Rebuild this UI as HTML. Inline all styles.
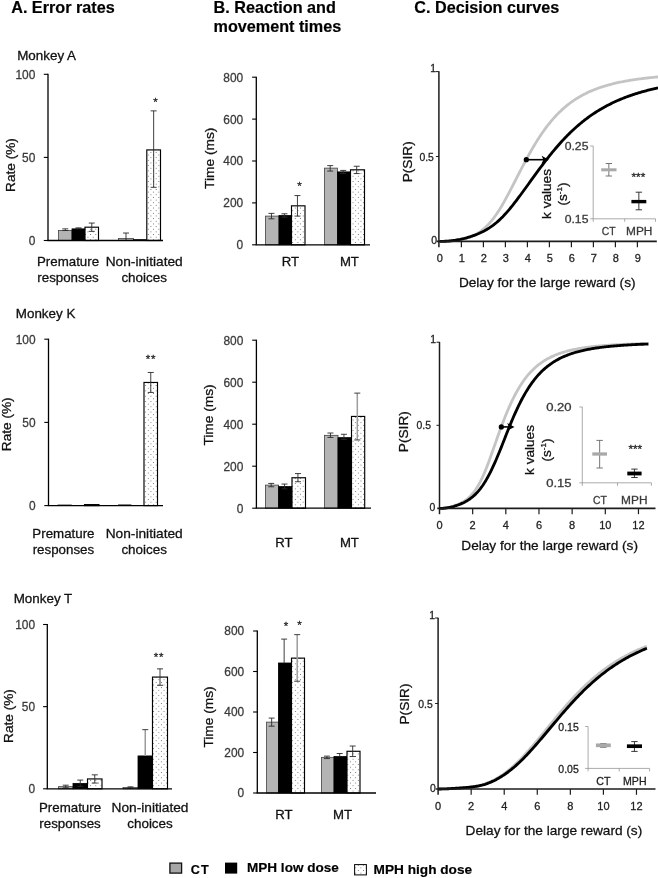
<!DOCTYPE html>
<html><head><meta charset="utf-8"><title>Figure</title>
<style>
html,body{margin:0;padding:0;background:#fff;}
body{width:658px;height:878px;overflow:hidden;font-family:"Liberation Sans",sans-serif;}
svg{display:block;font-family:"Liberation Sans",sans-serif;will-change:transform;transform:translateZ(0);}
</style></head><body>
<svg width="658" height="878" viewBox="0 0 658 878">
<defs>
<pattern id="dots" width="5.25" height="5.3" patternUnits="userSpaceOnUse">
<rect width="5.25" height="5.3" fill="#fff"/>
<circle cx="1.3" cy="1.3" r="0.52" fill="#555"/>
<circle cx="3.92" cy="3.95" r="0.52" fill="#555"/>
</pattern>
</defs>

<text x="11.2" y="13.3" font-size="16.2" text-anchor="start" font-weight="bold" fill="#000" stroke="#000" stroke-width="0.18">A. Error rates</text>
<text x="213.5" y="13.0" font-size="16.2" text-anchor="start" font-weight="bold" fill="#000" stroke="#000" stroke-width="0.18">B. Reaction and</text>
<text x="213.5" y="32.0" font-size="16.2" text-anchor="start" font-weight="bold" fill="#000" stroke="#000" stroke-width="0.18">movement times</text>
<text x="414.3" y="12.7" font-size="16.2" text-anchor="start" font-weight="bold" fill="#000" stroke="#000" stroke-width="0.18">C. Decision curves</text>
<text x="0" y="0" font-size="12.6" text-anchor="start" font-weight="normal" fill="#111" transform="translate(17.2 59.5) scale(1.065 1)" stroke="#111" stroke-width="0.28">Monkey A</text>
<rect x="58.5" y="230.53" width="13.5" height="9.969999999999999" fill="#b4b4b4" stroke="#444" stroke-width="0.8"/>
<rect x="72" y="228.87" width="13" height="11.629999999999995" fill="#000" stroke="#000" stroke-width="0.8"/>
<rect x="85" y="227.2" width="13.5" height="13.300000000000011" fill="url(#dots)" stroke="#000" stroke-width="1.15"/>
<line x1="65.25" y1="228.87" x2="65.25" y2="230.53" stroke="#2a2a2a" stroke-width="0.9" stroke-linecap="butt"/>
<line x1="62.25" y1="228.87" x2="68.25" y2="228.87" stroke="#2a2a2a" stroke-width="0.9" stroke-linecap="butt"/>
<line x1="62.25" y1="230.53" x2="68.25" y2="230.53" stroke="#2a2a2a" stroke-width="0.9" stroke-linecap="butt"/>
<line x1="78.5" y1="227.87" x2="78.5" y2="228.87" stroke="#2a2a2a" stroke-width="0.9" stroke-linecap="butt"/>
<line x1="75.5" y1="227.87" x2="81.5" y2="227.87" stroke="#2a2a2a" stroke-width="0.9" stroke-linecap="butt"/>
<line x1="75.5" y1="228.87" x2="81.5" y2="228.87" stroke="#2a2a2a" stroke-width="0.9" stroke-linecap="butt"/>
<line x1="91.75" y1="223.05" x2="91.75" y2="231.36" stroke="#2a2a2a" stroke-width="0.9" stroke-linecap="butt"/>
<line x1="88.75" y1="223.05" x2="94.75" y2="223.05" stroke="#2a2a2a" stroke-width="0.9" stroke-linecap="butt"/>
<line x1="88.75" y1="231.36" x2="94.75" y2="231.36" stroke="#2a2a2a" stroke-width="0.9" stroke-linecap="butt"/>
<rect x="118.5" y="238.51" width="15" height="1.990000000000009" fill="#b4b4b4" stroke="#444" stroke-width="0.8"/>
<rect x="133.5" y="239.67" width="13" height="0.8300000000000125" fill="#000" stroke="#000" stroke-width="0.8"/>
<rect x="146.8" y="149.92" width="13.7" height="90.58000000000001" fill="url(#dots)" stroke="#000" stroke-width="1.15"/>
<line x1="126.0" y1="233.02" x2="126.0" y2="240.5" stroke="#2a2a2a" stroke-width="0.9" stroke-linecap="butt"/>
<line x1="123.0" y1="233.02" x2="129.0" y2="233.02" stroke="#2a2a2a" stroke-width="0.9" stroke-linecap="butt"/>
<line x1="153.65" y1="110.86" x2="153.65" y2="187.32" stroke="#2a2a2a" stroke-width="0.9" stroke-linecap="butt"/>
<line x1="150.65" y1="110.86" x2="156.65" y2="110.86" stroke="#2a2a2a" stroke-width="0.9" stroke-linecap="butt"/>
<line x1="150.65" y1="187.32" x2="156.65" y2="187.32" stroke="#2a2a2a" stroke-width="0.9" stroke-linecap="butt"/>
<line x1="48" y1="73.8" x2="48" y2="240.5" stroke="#000" stroke-width="1.3" stroke-linecap="butt"/>
<line x1="47.35" y1="240.5" x2="163" y2="240.5" stroke="#000" stroke-width="1.3" stroke-linecap="butt"/>
<line x1="43.8" y1="240.5" x2="48" y2="240.5" stroke="#000" stroke-width="1.1" stroke-linecap="butt"/>
<text x="35.3" y="245.1" font-size="11.9" text-anchor="end" font-weight="normal" fill="#3a3a3a" stroke="#3a3a3a" stroke-width="0.28">0</text>
<line x1="43.8" y1="157.4" x2="48" y2="157.4" stroke="#000" stroke-width="1.1" stroke-linecap="butt"/>
<text x="35.3" y="162.0" font-size="11.9" text-anchor="end" font-weight="normal" fill="#3a3a3a" stroke="#3a3a3a" stroke-width="0.28">50</text>
<line x1="43.8" y1="74.3" x2="48" y2="74.3" stroke="#000" stroke-width="1.1" stroke-linecap="butt"/>
<text x="35.3" y="78.89999999999999" font-size="11.9" text-anchor="end" font-weight="normal" fill="#3a3a3a" stroke="#3a3a3a" stroke-width="0.28">100</text>
<text x="0" y="0" font-size="12.6" text-anchor="middle" font-weight="normal" fill="#111" transform="translate(15.0 165) rotate(-90) scale(1.083 1)" stroke="#111" stroke-width="0.28">Rate (%)</text>
<text x="155.5" y="105.5" font-size="11.5" text-anchor="middle" font-weight="normal" fill="#222" stroke="#222" stroke-width="0.28">*</text>
<text x="0" y="0" font-size="13.2" text-anchor="middle" font-weight="normal" fill="#111" transform="translate(68 266.2) scale(1.01 1)" stroke="#111" stroke-width="0.28">Premature</text>
<text x="0" y="0" font-size="13.2" text-anchor="middle" font-weight="normal" fill="#111" transform="translate(68 282.2) scale(1.01 1)" stroke="#111" stroke-width="0.28">responses</text>
<text x="0" y="0" font-size="13.2" text-anchor="middle" font-weight="normal" fill="#111" transform="translate(144.2 266.2) scale(1.04 1)" stroke="#111" stroke-width="0.28">Non-initiated</text>
<text x="0" y="0" font-size="13.2" text-anchor="middle" font-weight="normal" fill="#111" transform="translate(144.2 282.2) scale(1.02 1)" stroke="#111" stroke-width="0.28">choices</text>
<text x="0" y="0" font-size="12.6" text-anchor="start" font-weight="normal" fill="#111" transform="translate(15.8 318.2) scale(1.065 1)" stroke="#111" stroke-width="0.28">Monkey K</text>
<rect x="58" y="504.93" width="13.5" height="0.6700000000000159" fill="#b4b4b4" stroke="#444" stroke-width="0.8"/>
<rect x="84.5" y="504.6" width="14.5" height="1.0" fill="url(#dots)" stroke="#000" stroke-width="1.15"/>
<rect x="118.5" y="504.77" width="12.5" height="0.8300000000000409" fill="#b4b4b4" stroke="#444" stroke-width="0.8"/>
<rect x="144" y="382.46" width="13.5" height="123.14000000000004" fill="url(#dots)" stroke="#000" stroke-width="1.15"/>
<line x1="150.75" y1="372.48" x2="150.75" y2="392.45" stroke="#2a2a2a" stroke-width="0.9" stroke-linecap="butt"/>
<line x1="147.75" y1="372.48" x2="153.75" y2="372.48" stroke="#2a2a2a" stroke-width="0.9" stroke-linecap="butt"/>
<line x1="147.75" y1="392.45" x2="153.75" y2="392.45" stroke="#2a2a2a" stroke-width="0.9" stroke-linecap="butt"/>
<line x1="48.5" y1="338.7" x2="48.5" y2="505.6" stroke="#000" stroke-width="1.3" stroke-linecap="butt"/>
<line x1="47.85" y1="505.6" x2="163" y2="505.6" stroke="#000" stroke-width="1.3" stroke-linecap="butt"/>
<line x1="44.3" y1="505.6" x2="48.5" y2="505.6" stroke="#000" stroke-width="1.1" stroke-linecap="butt"/>
<text x="35.5" y="510.20000000000005" font-size="11.9" text-anchor="end" font-weight="normal" fill="#3a3a3a" stroke="#3a3a3a" stroke-width="0.28">0</text>
<line x1="44.3" y1="422.4" x2="48.5" y2="422.4" stroke="#000" stroke-width="1.1" stroke-linecap="butt"/>
<text x="35.5" y="427.0" font-size="11.9" text-anchor="end" font-weight="normal" fill="#3a3a3a" stroke="#3a3a3a" stroke-width="0.28">50</text>
<line x1="44.3" y1="339.2" x2="48.5" y2="339.2" stroke="#000" stroke-width="1.1" stroke-linecap="butt"/>
<text x="35.5" y="343.8" font-size="11.9" text-anchor="end" font-weight="normal" fill="#3a3a3a" stroke="#3a3a3a" stroke-width="0.28">100</text>
<text x="0" y="0" font-size="12.6" text-anchor="middle" font-weight="normal" fill="#111" transform="translate(10.7 424.3) rotate(-90) scale(1.083 1)" stroke="#111" stroke-width="0.28">Rate (%)</text>
<text x="151" y="363" font-size="11.5" text-anchor="middle" font-weight="normal" fill="#222" letter-spacing="0.7" stroke="#222" stroke-width="0.28">**</text>
<text x="0" y="0" font-size="13.2" text-anchor="middle" font-weight="normal" fill="#111" transform="translate(63.4 537.8) scale(1.01 1)" stroke="#111" stroke-width="0.28">Premature</text>
<text x="0" y="0" font-size="13.2" text-anchor="middle" font-weight="normal" fill="#111" transform="translate(63.4 553.8) scale(1.01 1)" stroke="#111" stroke-width="0.28">responses</text>
<text x="0" y="0" font-size="13.2" text-anchor="middle" font-weight="normal" fill="#111" transform="translate(144.2 537.8) scale(1.04 1)" stroke="#111" stroke-width="0.28">Non-initiated</text>
<text x="0" y="0" font-size="13.2" text-anchor="middle" font-weight="normal" fill="#111" transform="translate(144.2 553.8) scale(1.02 1)" stroke="#111" stroke-width="0.28">choices</text>
<text x="0" y="0" font-size="12.6" text-anchor="start" font-weight="normal" fill="#111" transform="translate(13.7 603.3) scale(1.065 1)" stroke="#111" stroke-width="0.28">Monkey T</text>
<rect x="58.5" y="786.66" width="14.5" height="2.1399999999999864" fill="#b4b4b4" stroke="#444" stroke-width="0.8"/>
<rect x="73" y="783.38" width="14.5" height="5.419999999999959" fill="#000" stroke="#000" stroke-width="0.8"/>
<rect x="87.5" y="778.94" width="14.5" height="9.8599999999999" fill="url(#dots)" stroke="#000" stroke-width="1.15"/>
<line x1="65.75" y1="785.19" x2="65.75" y2="787.81" stroke="#2a2a2a" stroke-width="0.9" stroke-linecap="butt"/>
<line x1="62.75" y1="785.19" x2="68.75" y2="785.19" stroke="#2a2a2a" stroke-width="0.9" stroke-linecap="butt"/>
<line x1="62.75" y1="787.81" x2="68.75" y2="787.81" stroke="#2a2a2a" stroke-width="0.9" stroke-linecap="butt"/>
<line x1="80.25" y1="780.09" x2="80.25" y2="786.34" stroke="#2a2a2a" stroke-width="0.9" stroke-linecap="butt"/>
<line x1="77.25" y1="780.09" x2="83.25" y2="780.09" stroke="#2a2a2a" stroke-width="0.9" stroke-linecap="butt"/>
<line x1="77.25" y1="786.34" x2="83.25" y2="786.34" stroke="#2a2a2a" stroke-width="0.9" stroke-linecap="butt"/>
<line x1="94.75" y1="774.83" x2="94.75" y2="783.05" stroke="#2a2a2a" stroke-width="0.9" stroke-linecap="butt"/>
<line x1="91.75" y1="774.83" x2="97.75" y2="774.83" stroke="#2a2a2a" stroke-width="0.9" stroke-linecap="butt"/>
<line x1="91.75" y1="783.05" x2="97.75" y2="783.05" stroke="#2a2a2a" stroke-width="0.9" stroke-linecap="butt"/>
<rect x="123" y="787.49" width="15" height="1.3099999999999454" fill="#b4b4b4" stroke="#444" stroke-width="0.8"/>
<rect x="138" y="755.94" width="14.5" height="32.8599999999999" fill="#000" stroke="#000" stroke-width="0.8"/>
<rect x="152.5" y="677.08" width="15" height="111.71999999999991" fill="url(#dots)" stroke="#000" stroke-width="1.15"/>
<line x1="130.5" y1="786.83" x2="130.5" y2="788.14" stroke="#2a2a2a" stroke-width="0.9" stroke-linecap="butt"/>
<line x1="127.5" y1="786.83" x2="133.5" y2="786.83" stroke="#2a2a2a" stroke-width="0.9" stroke-linecap="butt"/>
<line x1="127.5" y1="788.14" x2="133.5" y2="788.14" stroke="#2a2a2a" stroke-width="0.9" stroke-linecap="butt"/>
<line x1="145.25" y1="729.65" x2="145.25" y2="755.94" stroke="#9c9c9c" stroke-width="1.5" stroke-linecap="butt"/>
<line x1="142.25" y1="729.65" x2="148.25" y2="729.65" stroke="#2a2a2a" stroke-width="0.9" stroke-linecap="butt"/>
<line x1="160.0" y1="668.86" x2="160.0" y2="685.29" stroke="#2a2a2a" stroke-width="0.9" stroke-linecap="butt"/>
<line x1="157.0" y1="668.86" x2="163.0" y2="668.86" stroke="#2a2a2a" stroke-width="0.9" stroke-linecap="butt"/>
<line x1="157.0" y1="685.29" x2="163.0" y2="685.29" stroke="#2a2a2a" stroke-width="0.9" stroke-linecap="butt"/>
<line x1="47.3" y1="624.0" x2="47.3" y2="788.8" stroke="#000" stroke-width="1.3" stroke-linecap="butt"/>
<line x1="46.65" y1="788.8" x2="172" y2="788.8" stroke="#000" stroke-width="1.3" stroke-linecap="butt"/>
<line x1="43.099999999999994" y1="788.8" x2="47.3" y2="788.8" stroke="#000" stroke-width="1.1" stroke-linecap="butt"/>
<text x="35.0" y="793.4" font-size="11.9" text-anchor="end" font-weight="normal" fill="#3a3a3a" stroke="#3a3a3a" stroke-width="0.28">0</text>
<line x1="43.099999999999994" y1="706.65" x2="47.3" y2="706.65" stroke="#000" stroke-width="1.1" stroke-linecap="butt"/>
<text x="35.0" y="711.25" font-size="11.9" text-anchor="end" font-weight="normal" fill="#3a3a3a" stroke="#3a3a3a" stroke-width="0.28">50</text>
<line x1="43.099999999999994" y1="624.5" x2="47.3" y2="624.5" stroke="#000" stroke-width="1.1" stroke-linecap="butt"/>
<text x="35.0" y="629.1" font-size="11.9" text-anchor="end" font-weight="normal" fill="#3a3a3a" stroke="#3a3a3a" stroke-width="0.28">100</text>
<text x="0" y="0" font-size="12.6" text-anchor="middle" font-weight="normal" fill="#111" transform="translate(13.2 716) rotate(-90) scale(1.083 1)" stroke="#111" stroke-width="0.28">Rate (%)</text>
<text x="159" y="661" font-size="11.5" text-anchor="middle" font-weight="normal" fill="#222" letter-spacing="0.7" stroke="#222" stroke-width="0.28">**</text>
<text x="0" y="0" font-size="13.2" text-anchor="middle" font-weight="normal" fill="#111" transform="translate(70 812.0) scale(1.01 1)" stroke="#111" stroke-width="0.28">Premature</text>
<text x="0" y="0" font-size="13.2" text-anchor="middle" font-weight="normal" fill="#111" transform="translate(70 828.0) scale(1.01 1)" stroke="#111" stroke-width="0.28">responses</text>
<text x="0" y="0" font-size="13.2" text-anchor="middle" font-weight="normal" fill="#111" transform="translate(150 812.0) scale(1.04 1)" stroke="#111" stroke-width="0.28">Non-initiated</text>
<text x="0" y="0" font-size="13.2" text-anchor="middle" font-weight="normal" fill="#111" transform="translate(150 828.0) scale(1.02 1)" stroke="#111" stroke-width="0.28">choices</text>
<rect x="265.5" y="216.1" width="13.5" height="28.700000000000017" fill="#b4b4b4" stroke="#444" stroke-width="0.8"/>
<rect x="279" y="215.47" width="12.5" height="29.330000000000013" fill="#000" stroke="#000" stroke-width="0.8"/>
<rect x="291.5" y="205.83" width="13.5" height="38.97" fill="url(#dots)" stroke="#000" stroke-width="1.15"/>
<line x1="271.45" y1="213.38" x2="271.45" y2="218.82" stroke="#2a2a2a" stroke-width="0.9" stroke-linecap="butt"/>
<line x1="268.45" y1="213.38" x2="274.45" y2="213.38" stroke="#2a2a2a" stroke-width="0.9" stroke-linecap="butt"/>
<line x1="268.45" y1="218.82" x2="274.45" y2="218.82" stroke="#2a2a2a" stroke-width="0.9" stroke-linecap="butt"/>
<line x1="284.45" y1="213.79" x2="284.45" y2="217.15" stroke="#2a2a2a" stroke-width="0.9" stroke-linecap="butt"/>
<line x1="281.45" y1="213.79" x2="287.45" y2="213.79" stroke="#2a2a2a" stroke-width="0.9" stroke-linecap="butt"/>
<line x1="281.45" y1="217.15" x2="287.45" y2="217.15" stroke="#2a2a2a" stroke-width="0.9" stroke-linecap="butt"/>
<line x1="297.45" y1="195.57" x2="297.45" y2="216.1" stroke="#2a2a2a" stroke-width="0.9" stroke-linecap="butt"/>
<line x1="294.45" y1="195.57" x2="300.45" y2="195.57" stroke="#2a2a2a" stroke-width="0.9" stroke-linecap="butt"/>
<line x1="294.45" y1="216.1" x2="300.45" y2="216.1" stroke="#2a2a2a" stroke-width="0.9" stroke-linecap="butt"/>
<rect x="324.5" y="168.12" width="13" height="76.68" fill="#b4b4b4" stroke="#444" stroke-width="0.8"/>
<rect x="337.5" y="171.89" width="13" height="72.91000000000003" fill="#000" stroke="#000" stroke-width="0.8"/>
<rect x="350.5" y="169.8" width="14" height="75.0" fill="url(#dots)" stroke="#000" stroke-width="1.15"/>
<line x1="330.2" y1="165.61" x2="330.2" y2="171.06" stroke="#2a2a2a" stroke-width="0.9" stroke-linecap="butt"/>
<line x1="327.2" y1="165.61" x2="333.2" y2="165.61" stroke="#2a2a2a" stroke-width="0.9" stroke-linecap="butt"/>
<line x1="327.2" y1="171.06" x2="333.2" y2="171.06" stroke="#2a2a2a" stroke-width="0.9" stroke-linecap="butt"/>
<line x1="343.2" y1="170.43" x2="343.2" y2="173.36" stroke="#2a2a2a" stroke-width="0.9" stroke-linecap="butt"/>
<line x1="340.2" y1="170.43" x2="346.2" y2="170.43" stroke="#2a2a2a" stroke-width="0.9" stroke-linecap="butt"/>
<line x1="340.2" y1="173.36" x2="346.2" y2="173.36" stroke="#2a2a2a" stroke-width="0.9" stroke-linecap="butt"/>
<line x1="356.7" y1="166.24" x2="356.7" y2="173.57" stroke="#2a2a2a" stroke-width="0.9" stroke-linecap="butt"/>
<line x1="353.7" y1="166.24" x2="359.7" y2="166.24" stroke="#2a2a2a" stroke-width="0.9" stroke-linecap="butt"/>
<line x1="353.7" y1="173.57" x2="359.7" y2="173.57" stroke="#2a2a2a" stroke-width="0.9" stroke-linecap="butt"/>
<line x1="256.3" y1="76.7" x2="256.3" y2="244.8" stroke="#000" stroke-width="1.3" stroke-linecap="butt"/>
<line x1="255.65" y1="244.8" x2="370" y2="244.8" stroke="#000" stroke-width="1.3" stroke-linecap="butt"/>
<line x1="252.10000000000002" y1="244.8" x2="256.3" y2="244.8" stroke="#000" stroke-width="1.1" stroke-linecap="butt"/>
<text x="243.20000000000002" y="249.20000000000002" font-size="11.9" text-anchor="end" font-weight="normal" fill="#3a3a3a" stroke="#3a3a3a" stroke-width="0.28">0</text>
<line x1="252.10000000000002" y1="202.9" x2="256.3" y2="202.9" stroke="#000" stroke-width="1.1" stroke-linecap="butt"/>
<text x="243.20000000000002" y="207.3" font-size="11.9" text-anchor="end" font-weight="normal" fill="#3a3a3a" stroke="#3a3a3a" stroke-width="0.28">200</text>
<line x1="252.10000000000002" y1="161.0" x2="256.3" y2="161.0" stroke="#000" stroke-width="1.1" stroke-linecap="butt"/>
<text x="243.20000000000002" y="165.4" font-size="11.9" text-anchor="end" font-weight="normal" fill="#3a3a3a" stroke="#3a3a3a" stroke-width="0.28">400</text>
<line x1="252.10000000000002" y1="119.1" x2="256.3" y2="119.1" stroke="#000" stroke-width="1.1" stroke-linecap="butt"/>
<text x="243.20000000000002" y="123.5" font-size="11.9" text-anchor="end" font-weight="normal" fill="#3a3a3a" stroke="#3a3a3a" stroke-width="0.28">600</text>
<line x1="252.10000000000002" y1="77.2" x2="256.3" y2="77.2" stroke="#000" stroke-width="1.1" stroke-linecap="butt"/>
<text x="243.20000000000002" y="81.60000000000001" font-size="11.9" text-anchor="end" font-weight="normal" fill="#3a3a3a" stroke="#3a3a3a" stroke-width="0.28">800</text>
<text x="0" y="0" font-size="12.9" text-anchor="middle" font-weight="normal" fill="#111" transform="translate(214.4 158.3) rotate(-90) scale(1.065 1)" stroke="#111" stroke-width="0.28">Time (ms)</text>
<text x="299.4" y="189.5" font-size="11.5" text-anchor="middle" font-weight="normal" fill="#222" stroke="#222" stroke-width="0.28">*</text>
<text x="290.4" y="266.3" font-size="13.2" text-anchor="middle" font-weight="normal" fill="#111" stroke="#111" stroke-width="0.28">RT</text>
<text x="349.4" y="266.3" font-size="13.2" text-anchor="middle" font-weight="normal" fill="#111" stroke="#111" stroke-width="0.28">MT</text>
<rect x="265.4" y="485.1" width="13.2" height="23.099999999999966" fill="#b4b4b4" stroke="#444" stroke-width="0.8"/>
<rect x="278.6" y="486.57" width="13.4" height="21.629999999999995" fill="#000" stroke="#000" stroke-width="0.8"/>
<rect x="292.0" y="477.75" width="13.5" height="30.44999999999999" fill="url(#dots)" stroke="#000" stroke-width="1.15"/>
<line x1="271.2" y1="483.42" x2="271.2" y2="486.78" stroke="#2a2a2a" stroke-width="0.9" stroke-linecap="butt"/>
<line x1="268.2" y1="483.42" x2="274.2" y2="483.42" stroke="#2a2a2a" stroke-width="0.9" stroke-linecap="butt"/>
<line x1="268.2" y1="486.78" x2="274.2" y2="486.78" stroke="#2a2a2a" stroke-width="0.9" stroke-linecap="butt"/>
<line x1="284.5" y1="484.05" x2="284.5" y2="488.88" stroke="#2a2a2a" stroke-width="0.9" stroke-linecap="butt"/>
<line x1="281.5" y1="484.05" x2="287.5" y2="484.05" stroke="#2a2a2a" stroke-width="0.9" stroke-linecap="butt"/>
<line x1="281.5" y1="488.88" x2="287.5" y2="488.88" stroke="#2a2a2a" stroke-width="0.9" stroke-linecap="butt"/>
<line x1="297.95" y1="473.55" x2="297.95" y2="481.74" stroke="#2a2a2a" stroke-width="0.9" stroke-linecap="butt"/>
<line x1="294.95" y1="473.55" x2="300.95" y2="473.55" stroke="#2a2a2a" stroke-width="0.9" stroke-linecap="butt"/>
<line x1="294.95" y1="481.74" x2="300.95" y2="481.74" stroke="#2a2a2a" stroke-width="0.9" stroke-linecap="butt"/>
<rect x="324.5" y="435.33" width="13.5" height="72.87" fill="#b4b4b4" stroke="#444" stroke-width="0.8"/>
<rect x="338" y="437.64" width="13.5" height="70.56" fill="#000" stroke="#000" stroke-width="0.8"/>
<rect x="351.5" y="416.43" width="13.2" height="91.76999999999998" fill="url(#dots)" stroke="#000" stroke-width="1.15"/>
<line x1="330.45" y1="433.02" x2="330.45" y2="437.43" stroke="#2a2a2a" stroke-width="0.9" stroke-linecap="butt"/>
<line x1="327.45" y1="433.02" x2="333.45" y2="433.02" stroke="#2a2a2a" stroke-width="0.9" stroke-linecap="butt"/>
<line x1="327.45" y1="437.43" x2="333.45" y2="437.43" stroke="#2a2a2a" stroke-width="0.9" stroke-linecap="butt"/>
<line x1="343.95" y1="434.28" x2="343.95" y2="439.32" stroke="#2a2a2a" stroke-width="0.9" stroke-linecap="butt"/>
<line x1="340.95" y1="434.28" x2="346.95" y2="434.28" stroke="#2a2a2a" stroke-width="0.9" stroke-linecap="butt"/>
<line x1="340.95" y1="439.32" x2="346.95" y2="439.32" stroke="#2a2a2a" stroke-width="0.9" stroke-linecap="butt"/>
<line x1="357.3" y1="393.12" x2="357.3" y2="439.95" stroke="#9c9c9c" stroke-width="1.5" stroke-linecap="butt"/>
<line x1="354.3" y1="393.12" x2="360.3" y2="393.12" stroke="#2a2a2a" stroke-width="0.9" stroke-linecap="butt"/>
<line x1="354.3" y1="439.95" x2="360.3" y2="439.95" stroke="#2a2a2a" stroke-width="0.9" stroke-linecap="butt"/>
<line x1="256.4" y1="339.7" x2="256.4" y2="508.2" stroke="#000" stroke-width="1.3" stroke-linecap="butt"/>
<line x1="255.74999999999997" y1="508.2" x2="371" y2="508.2" stroke="#000" stroke-width="1.3" stroke-linecap="butt"/>
<line x1="252.2" y1="508.2" x2="256.4" y2="508.2" stroke="#000" stroke-width="1.1" stroke-linecap="butt"/>
<text x="243.29999999999998" y="512.6" font-size="11.9" text-anchor="end" font-weight="normal" fill="#3a3a3a" stroke="#3a3a3a" stroke-width="0.28">0</text>
<line x1="252.2" y1="466.2" x2="256.4" y2="466.2" stroke="#000" stroke-width="1.1" stroke-linecap="butt"/>
<text x="243.29999999999998" y="470.59999999999997" font-size="11.9" text-anchor="end" font-weight="normal" fill="#3a3a3a" stroke="#3a3a3a" stroke-width="0.28">200</text>
<line x1="252.2" y1="424.2" x2="256.4" y2="424.2" stroke="#000" stroke-width="1.1" stroke-linecap="butt"/>
<text x="243.29999999999998" y="428.59999999999997" font-size="11.9" text-anchor="end" font-weight="normal" fill="#3a3a3a" stroke="#3a3a3a" stroke-width="0.28">400</text>
<line x1="252.2" y1="382.2" x2="256.4" y2="382.2" stroke="#000" stroke-width="1.1" stroke-linecap="butt"/>
<text x="243.29999999999998" y="386.59999999999997" font-size="11.9" text-anchor="end" font-weight="normal" fill="#3a3a3a" stroke="#3a3a3a" stroke-width="0.28">600</text>
<line x1="252.2" y1="340.2" x2="256.4" y2="340.2" stroke="#000" stroke-width="1.1" stroke-linecap="butt"/>
<text x="243.29999999999998" y="344.59999999999997" font-size="11.9" text-anchor="end" font-weight="normal" fill="#3a3a3a" stroke="#3a3a3a" stroke-width="0.28">800</text>
<text x="0" y="0" font-size="12.9" text-anchor="middle" font-weight="normal" fill="#111" transform="translate(212.8 415) rotate(-90) scale(1.065 1)" stroke="#111" stroke-width="0.28">Time (ms)</text>
<text x="284" y="546.7" font-size="13.2" text-anchor="middle" font-weight="normal" fill="#111" stroke="#111" stroke-width="0.28">RT</text>
<text x="349.4" y="546.7" font-size="13.2" text-anchor="middle" font-weight="normal" fill="#111" stroke="#111" stroke-width="0.28">MT</text>
<rect x="266.5" y="722.12" width="11.9" height="70.88" fill="#b4b4b4" stroke="#444" stroke-width="0.8"/>
<rect x="278.4" y="663.0" width="13.1" height="130.0" fill="#000" stroke="#000" stroke-width="0.8"/>
<rect x="291.5" y="658.13" width="13" height="134.87" fill="url(#dots)" stroke="#000" stroke-width="1.15"/>
<line x1="271.65" y1="718.08" x2="271.65" y2="726.17" stroke="#2a2a2a" stroke-width="0.9" stroke-linecap="butt"/>
<line x1="268.65" y1="718.08" x2="274.65" y2="718.08" stroke="#2a2a2a" stroke-width="0.9" stroke-linecap="butt"/>
<line x1="268.65" y1="726.17" x2="274.65" y2="726.17" stroke="#2a2a2a" stroke-width="0.9" stroke-linecap="butt"/>
<line x1="284.15" y1="639.1" x2="284.15" y2="663.4" stroke="#2a2a2a" stroke-width="0.9" stroke-linecap="butt"/>
<line x1="281.15" y1="639.1" x2="287.15" y2="639.1" stroke="#2a2a2a" stroke-width="0.9" stroke-linecap="butt"/>
<line x1="297.2" y1="634.64" x2="297.2" y2="681.22" stroke="#9c9c9c" stroke-width="1.5" stroke-linecap="butt"/>
<line x1="294.2" y1="634.64" x2="300.2" y2="634.64" stroke="#2a2a2a" stroke-width="0.9" stroke-linecap="butt"/>
<line x1="294.2" y1="681.22" x2="300.2" y2="681.22" stroke="#2a2a2a" stroke-width="0.9" stroke-linecap="butt"/>
<rect x="321.5" y="757.36" width="12.5" height="35.639999999999986" fill="#b4b4b4" stroke="#444" stroke-width="0.8"/>
<rect x="334" y="756.55" width="13" height="36.450000000000045" fill="#000" stroke="#000" stroke-width="0.8"/>
<rect x="347" y="751.28" width="13" height="41.72000000000003" fill="url(#dots)" stroke="#000" stroke-width="1.15"/>
<line x1="326.95" y1="756.14" x2="326.95" y2="758.58" stroke="#2a2a2a" stroke-width="0.9" stroke-linecap="butt"/>
<line x1="323.95" y1="756.14" x2="329.95" y2="756.14" stroke="#2a2a2a" stroke-width="0.9" stroke-linecap="butt"/>
<line x1="323.95" y1="758.58" x2="329.95" y2="758.58" stroke="#2a2a2a" stroke-width="0.9" stroke-linecap="butt"/>
<line x1="339.7" y1="753.51" x2="339.7" y2="756.55" stroke="#2a2a2a" stroke-width="0.9" stroke-linecap="butt"/>
<line x1="336.7" y1="753.51" x2="342.7" y2="753.51" stroke="#2a2a2a" stroke-width="0.9" stroke-linecap="butt"/>
<line x1="352.7" y1="746.02" x2="352.7" y2="756.55" stroke="#2a2a2a" stroke-width="0.9" stroke-linecap="butt"/>
<line x1="349.7" y1="746.02" x2="355.7" y2="746.02" stroke="#2a2a2a" stroke-width="0.9" stroke-linecap="butt"/>
<line x1="349.7" y1="756.55" x2="355.7" y2="756.55" stroke="#2a2a2a" stroke-width="0.9" stroke-linecap="butt"/>
<line x1="257.3" y1="630.5" x2="257.3" y2="793" stroke="#000" stroke-width="1.3" stroke-linecap="butt"/>
<line x1="256.65000000000003" y1="793" x2="376" y2="793" stroke="#000" stroke-width="1.3" stroke-linecap="butt"/>
<line x1="253.10000000000002" y1="793.0" x2="257.3" y2="793.0" stroke="#000" stroke-width="1.1" stroke-linecap="butt"/>
<text x="244.20000000000002" y="797.4" font-size="11.9" text-anchor="end" font-weight="normal" fill="#3a3a3a" stroke="#3a3a3a" stroke-width="0.28">0</text>
<line x1="253.10000000000002" y1="752.5" x2="257.3" y2="752.5" stroke="#000" stroke-width="1.1" stroke-linecap="butt"/>
<text x="244.20000000000002" y="756.9" font-size="11.9" text-anchor="end" font-weight="normal" fill="#3a3a3a" stroke="#3a3a3a" stroke-width="0.28">200</text>
<line x1="253.10000000000002" y1="712.0" x2="257.3" y2="712.0" stroke="#000" stroke-width="1.1" stroke-linecap="butt"/>
<text x="244.20000000000002" y="716.4" font-size="11.9" text-anchor="end" font-weight="normal" fill="#3a3a3a" stroke="#3a3a3a" stroke-width="0.28">400</text>
<line x1="253.10000000000002" y1="671.5" x2="257.3" y2="671.5" stroke="#000" stroke-width="1.1" stroke-linecap="butt"/>
<text x="244.20000000000002" y="675.9" font-size="11.9" text-anchor="end" font-weight="normal" fill="#3a3a3a" stroke="#3a3a3a" stroke-width="0.28">600</text>
<line x1="253.10000000000002" y1="631.0" x2="257.3" y2="631.0" stroke="#000" stroke-width="1.1" stroke-linecap="butt"/>
<text x="244.20000000000002" y="635.4" font-size="11.9" text-anchor="end" font-weight="normal" fill="#3a3a3a" stroke="#3a3a3a" stroke-width="0.28">800</text>
<text x="0" y="0" font-size="12.9" text-anchor="middle" font-weight="normal" fill="#111" transform="translate(213.0 717) rotate(-90) scale(1.065 1)" stroke="#111" stroke-width="0.28">Time (ms)</text>
<text x="286" y="630" font-size="11.5" text-anchor="middle" font-weight="normal" fill="#222" stroke="#222" stroke-width="0.28">*</text>
<text x="299.5" y="629" font-size="11.5" text-anchor="middle" font-weight="normal" fill="#222" stroke="#222" stroke-width="0.28">*</text>
<text x="284.0" y="819" font-size="13.2" text-anchor="middle" font-weight="normal" fill="#111" stroke="#111" stroke-width="0.28">RT</text>
<text x="342.6" y="819" font-size="13.2" text-anchor="middle" font-weight="normal" fill="#111" stroke="#111" stroke-width="0.28">MT</text>
<polyline points="439.40,241.40 440.49,241.40 441.59,241.38 442.68,241.36 443.77,241.33 444.87,241.29 445.96,241.25 447.05,241.19 448.15,241.12 449.24,241.05 450.33,240.96 451.43,240.87 452.52,240.76 453.61,240.64 454.71,240.51 455.80,240.36 456.89,240.21 457.99,240.03 459.08,239.85 460.17,239.65 461.27,239.43 462.36,239.19 463.45,238.94 464.55,238.66 465.64,238.37 466.73,238.05 467.83,237.70 468.92,237.33 470.02,236.94 471.11,236.51 472.20,236.05 473.30,235.56 474.39,235.03 475.48,234.47 476.58,233.87 477.67,233.23 478.76,232.54 479.86,231.81 480.95,231.03 482.04,230.20 483.14,229.33 484.23,228.40 485.32,227.42 486.42,226.38 487.51,225.29 488.60,224.14 489.70,222.94 490.79,221.68 491.88,220.35 492.98,218.98 494.07,217.54 495.16,216.04 496.26,214.49 497.35,212.88 498.44,211.22 499.54,209.50 500.63,207.73 501.72,205.92 502.82,204.05 503.91,202.14 505.00,200.19 506.10,198.19 507.19,196.17 508.28,194.13 509.38,192.06 510.47,189.97 511.56,187.87 512.66,185.75 513.75,183.63 514.84,181.49 515.94,179.36 517.03,177.22 518.12,175.09 519.22,172.96 520.31,170.83 521.40,168.72 522.50,166.62 523.59,164.54 524.69,162.47 525.78,160.42 526.87,158.40 527.97,156.39 529.06,154.41 530.15,152.46 531.25,150.54 532.34,148.64 533.43,146.77 534.53,144.94 535.62,143.13 536.71,141.36 537.81,139.62 538.90,137.92 539.99,136.25 541.09,134.61 542.18,133.01 543.27,131.44 544.37,129.91 545.46,128.41 546.55,126.95 547.65,125.52 548.74,124.12 549.83,122.76 550.93,121.43 552.02,120.14 553.11,118.88 554.21,117.64 555.30,116.45 556.39,115.28 557.49,114.14 558.58,113.03 559.67,111.96 560.77,110.91 561.86,109.89 562.95,108.90 564.05,107.93 565.14,106.99 566.23,106.08 567.33,105.19 568.42,104.33 569.51,103.49 570.61,102.67 571.70,101.88 572.79,101.11 573.89,100.36 574.98,99.64 576.08,98.93 577.17,98.24 578.26,97.57 579.36,96.92 580.45,96.29 581.54,95.68 582.64,95.09 583.73,94.51 584.82,93.94 585.92,93.40 587.01,92.87 588.10,92.35 589.20,91.85 590.29,91.36 591.38,90.89 592.48,90.43 593.57,89.98 594.66,89.54 595.76,89.12 596.85,88.71 597.94,88.31 599.04,87.92 600.13,87.54 601.22,87.17 602.32,86.81 603.41,86.46 604.50,86.13 605.60,85.80 606.69,85.47 607.78,85.16 608.88,84.86 609.97,84.56 611.06,84.28 612.16,84.00 613.25,83.72 614.34,83.46 615.44,83.20 616.53,82.95 617.62,82.70 618.72,82.46 619.81,82.23 620.90,82.00 622.00,81.78 623.09,81.57 624.18,81.36 625.28,81.15 626.37,80.96 627.46,80.76 628.56,80.57 629.65,80.39 630.75,80.21 631.84,80.03 632.93,79.86 634.03,79.70 635.12,79.53 636.21,79.37 637.31,79.22 638.40,79.07 639.49,78.92 640.59,78.78 641.68,78.64 642.77,78.50 643.87,78.37 644.96,78.24 646.05,78.11 647.15,77.99 648.24,77.86 649.33,77.74 650.43,77.63 651.52,77.52 652.61,77.41 653.71,77.30 654.80,77.19 655.89,77.09 656.99,76.99 658.08,76.89" fill="none" stroke="#c4c4c4" stroke-width="2.8" stroke-linejoin="round" stroke-linecap="butt"/>
<polyline points="439.40,241.40 440.49,241.40 441.59,241.38 442.68,241.35 443.77,241.32 444.87,241.27 445.96,241.21 447.05,241.14 448.15,241.06 449.24,240.96 450.33,240.86 451.43,240.74 452.52,240.61 453.61,240.46 454.71,240.31 455.80,240.14 456.89,239.95 457.99,239.76 459.08,239.55 460.17,239.34 461.27,239.10 462.36,238.86 463.45,238.60 464.55,238.34 465.64,238.05 466.73,237.76 467.83,237.45 468.92,237.13 470.02,236.79 471.11,236.44 472.20,236.08 473.30,235.70 474.39,235.30 475.48,234.89 476.58,234.46 477.67,234.01 478.76,233.55 479.86,233.06 480.95,232.55 482.04,232.02 483.14,231.47 484.23,230.90 485.32,230.30 486.42,229.67 487.51,229.02 488.60,228.34 489.70,227.63 490.79,226.89 491.88,226.12 492.98,225.33 494.07,224.50 495.16,223.63 496.26,222.74 497.35,221.81 498.44,220.84 499.54,219.84 500.63,218.81 501.72,217.74 502.82,216.64 503.91,215.50 505.00,214.33 506.10,213.13 507.19,211.89 508.28,210.62 509.38,209.32 510.47,207.99 511.56,206.64 512.66,205.27 513.75,203.88 514.84,202.47 515.94,201.05 517.03,199.62 518.12,198.17 519.22,196.71 520.31,195.24 521.40,193.75 522.50,192.27 523.59,190.77 524.69,189.27 525.78,187.76 526.87,186.25 527.97,184.73 529.06,183.22 530.15,181.70 531.25,180.19 532.34,178.67 533.43,177.16 534.53,175.65 535.62,174.15 536.71,172.66 537.81,171.16 538.90,169.68 539.99,168.21 541.09,166.74 542.18,165.28 543.27,163.84 544.37,162.40 545.46,160.98 546.55,159.56 547.65,158.16 548.74,156.78 549.83,155.40 550.93,154.05 552.02,152.70 553.11,151.37 554.21,150.06 555.30,148.76 556.39,147.48 557.49,146.21 558.58,144.96 559.67,143.73 560.77,142.51 561.86,141.31 562.95,140.12 564.05,138.96 565.14,137.81 566.23,136.67 567.33,135.56 568.42,134.46 569.51,133.38 570.61,132.31 571.70,131.26 572.79,130.23 573.89,129.22 574.98,128.22 576.08,127.24 577.17,126.28 578.26,125.33 579.36,124.40 580.45,123.48 581.54,122.58 582.64,121.70 583.73,120.83 584.82,119.98 585.92,119.14 587.01,118.32 588.10,117.51 589.20,116.71 590.29,115.94 591.38,115.17 592.48,114.42 593.57,113.68 594.66,112.96 595.76,112.25 596.85,111.56 597.94,110.87 599.04,110.20 600.13,109.54 601.22,108.90 602.32,108.27 603.41,107.65 604.50,107.04 605.60,106.44 606.69,105.85 607.78,105.28 608.88,104.71 609.97,104.16 611.06,103.62 612.16,103.08 613.25,102.56 614.34,102.05 615.44,101.55 616.53,101.05 617.62,100.57 618.72,100.09 619.81,99.63 620.90,99.17 622.00,98.72 623.09,98.28 624.18,97.85 625.28,97.43 626.37,97.02 627.46,96.61 628.56,96.21 629.65,95.82 630.75,95.43 631.84,95.06 632.93,94.69 634.03,94.33 635.12,93.97 636.21,93.62 637.31,93.28 638.40,92.94 639.49,92.61 640.59,92.29 641.68,91.97 642.77,91.66 643.87,91.35 644.96,91.05 646.05,90.76 647.15,90.47 648.24,90.18 649.33,89.90 650.43,89.63 651.52,89.36 652.61,89.10 653.71,88.84 654.80,88.58 655.89,88.33 656.99,88.09 658.08,87.85" fill="none" stroke="#000" stroke-width="2.85" stroke-linejoin="round" stroke-linecap="butt"/>
<line x1="438.9" y1="71.3" x2="438.9" y2="247.20000000000002" stroke="#1c1c1c" stroke-width="1.5" stroke-linecap="butt"/>
<line x1="436.7" y1="241.4" x2="656.8" y2="241.4" stroke="#1c1c1c" stroke-width="1.65" stroke-linecap="butt"/>
<text x="437.09999999999997" y="244.20000000000002" font-size="10.4" text-anchor="end" font-weight="normal" fill="#222" stroke="#222" stroke-width="0.28">0</text>
<line x1="435.9" y1="156.5" x2="438.9" y2="156.5" stroke="#1c1c1c" stroke-width="1.0" stroke-linecap="butt"/>
<text x="433.9" y="160.5" font-size="10.4" text-anchor="end" font-weight="normal" fill="#222" stroke="#222" stroke-width="0.28">0.5</text>
<line x1="435.9" y1="71.6" x2="438.9" y2="71.6" stroke="#1c1c1c" stroke-width="1.0" stroke-linecap="butt"/>
<text x="436.0" y="72.3" font-size="10.4" text-anchor="end" font-weight="normal" fill="#222" stroke="#222" stroke-width="0.28">1</text>
<text x="439.9" y="262.0" font-size="11" text-anchor="middle" font-weight="normal" fill="#222" stroke="#222" stroke-width="0.28">0</text>
<line x1="461.4" y1="241.4" x2="461.4" y2="247.20000000000002" stroke="#1c1c1c" stroke-width="1.2" stroke-linecap="butt"/>
<text x="461.9" y="262.0" font-size="11" text-anchor="middle" font-weight="normal" fill="#222" stroke="#222" stroke-width="0.28">1</text>
<line x1="483.4" y1="241.4" x2="483.4" y2="247.20000000000002" stroke="#1c1c1c" stroke-width="1.2" stroke-linecap="butt"/>
<text x="483.9" y="262.0" font-size="11" text-anchor="middle" font-weight="normal" fill="#222" stroke="#222" stroke-width="0.28">2</text>
<line x1="505.4" y1="241.4" x2="505.4" y2="247.20000000000002" stroke="#1c1c1c" stroke-width="1.2" stroke-linecap="butt"/>
<text x="505.9" y="262.0" font-size="11" text-anchor="middle" font-weight="normal" fill="#222" stroke="#222" stroke-width="0.28">3</text>
<line x1="527.4" y1="241.4" x2="527.4" y2="247.20000000000002" stroke="#1c1c1c" stroke-width="1.2" stroke-linecap="butt"/>
<text x="527.9" y="262.0" font-size="11" text-anchor="middle" font-weight="normal" fill="#222" stroke="#222" stroke-width="0.28">4</text>
<line x1="549.4" y1="241.4" x2="549.4" y2="247.20000000000002" stroke="#1c1c1c" stroke-width="1.2" stroke-linecap="butt"/>
<text x="549.9" y="262.0" font-size="11" text-anchor="middle" font-weight="normal" fill="#222" stroke="#222" stroke-width="0.28">5</text>
<line x1="571.4" y1="241.4" x2="571.4" y2="247.20000000000002" stroke="#1c1c1c" stroke-width="1.2" stroke-linecap="butt"/>
<text x="571.9" y="262.0" font-size="11" text-anchor="middle" font-weight="normal" fill="#222" stroke="#222" stroke-width="0.28">6</text>
<line x1="593.4" y1="241.4" x2="593.4" y2="247.20000000000002" stroke="#1c1c1c" stroke-width="1.2" stroke-linecap="butt"/>
<text x="593.9" y="262.0" font-size="11" text-anchor="middle" font-weight="normal" fill="#222" stroke="#222" stroke-width="0.28">7</text>
<line x1="615.4" y1="241.4" x2="615.4" y2="247.20000000000002" stroke="#1c1c1c" stroke-width="1.2" stroke-linecap="butt"/>
<text x="615.9" y="262.0" font-size="11" text-anchor="middle" font-weight="normal" fill="#222" stroke="#222" stroke-width="0.28">8</text>
<line x1="637.4" y1="241.4" x2="637.4" y2="247.20000000000002" stroke="#1c1c1c" stroke-width="1.2" stroke-linecap="butt"/>
<text x="637.9" y="262.0" font-size="11" text-anchor="middle" font-weight="normal" fill="#222" stroke="#222" stroke-width="0.28">9</text>
<circle cx="526.3" cy="159.7" r="2.6" fill="#000"/>
<line x1="526.3" y1="159.7" x2="545.6" y2="159.7" stroke="#000" stroke-width="1.6" stroke-linecap="butt"/>
<path d="M541.6,155.79999999999998 L548.9,159.7 L541.6,163.6 L543.4,159.7 Z" fill="#000"/>
<text x="0" y="0" font-size="13.7" text-anchor="middle" font-weight="normal" fill="#111" transform="translate(412.4 161.8) rotate(-90)" stroke="#111" stroke-width="0.28">P(SIR)</text>
<text x="458.9" y="287" font-size="13.65" text-anchor="start" font-weight="normal" fill="#111" stroke="#111" stroke-width="0.28">Delay for the large reward (s)</text>
<polyline points="439.50,508.40 440.54,508.39 441.59,508.34 442.63,508.27 443.68,508.17 444.72,508.04 445.77,507.89 446.81,507.71 447.86,507.50 448.90,507.27 449.95,507.02 450.99,506.74 452.03,506.45 453.08,506.13 454.12,505.78 455.17,505.42 456.21,505.03 457.26,504.62 458.30,504.18 459.35,503.71 460.39,503.21 461.44,502.68 462.48,502.11 463.52,501.50 464.57,500.84 465.61,500.13 466.66,499.37 467.70,498.54 468.75,497.64 469.79,496.68 470.84,495.63 471.88,494.49 472.93,493.27 473.97,491.95 475.01,490.53 476.06,489.00 477.10,487.37 478.15,485.63 479.19,483.77 480.24,481.81 481.28,479.72 482.33,477.53 483.37,475.23 484.42,472.82 485.46,470.31 486.50,467.71 487.55,465.01 488.59,462.23 489.64,459.38 490.68,456.48 491.73,453.55 492.77,450.60 493.82,447.64 494.86,444.67 495.91,441.71 496.95,438.76 497.99,435.83 499.04,432.92 500.08,430.05 501.13,427.21 502.17,424.42 503.22,421.67 504.26,418.98 505.31,416.34 506.35,413.77 507.40,411.25 508.44,408.80 509.48,406.41 510.53,404.10 511.57,401.84 512.62,399.66 513.66,397.55 514.71,395.50 515.75,393.52 516.80,391.61 517.84,389.77 518.89,387.99 519.93,386.28 520.97,384.63 522.02,383.04 523.06,381.51 524.11,380.04 525.15,378.62 526.20,377.26 527.24,375.95 528.29,374.70 529.33,373.49 530.37,372.33 531.42,371.22 532.46,370.16 533.51,369.13 534.55,368.15 535.60,367.21 536.64,366.30 537.69,365.43 538.73,364.60 539.78,363.80 540.82,363.03 541.86,362.30 542.91,361.59 543.95,360.91 545.00,360.26 546.04,359.64 547.09,359.04 548.13,358.46 549.18,357.91 550.22,357.38 551.27,356.87 552.31,356.38 553.35,355.91 554.40,355.45 555.44,355.02 556.49,354.60 557.53,354.20 558.58,353.81 559.62,353.44 560.67,353.08 561.71,352.74 562.76,352.41 563.80,352.09 564.84,351.78 565.89,351.49 566.93,351.20 567.98,350.93 569.02,350.67 570.07,350.41 571.11,350.17 572.16,349.93 573.20,349.70 574.25,349.48 575.29,349.27 576.33,349.06 577.38,348.87 578.42,348.68 579.47,348.49 580.51,348.32 581.56,348.14 582.60,347.98 583.65,347.82 584.69,347.66 585.74,347.51 586.78,347.37 587.82,347.23 588.87,347.09 589.91,346.96 590.96,346.84 592.00,346.71 593.05,346.60 594.09,346.48 595.14,346.37 596.18,346.26 597.23,346.16 598.27,346.06 599.31,345.96 600.36,345.87 601.40,345.77 602.45,345.69 603.49,345.60 604.54,345.52 605.58,345.44 606.63,345.36 607.67,345.28 608.72,345.21 609.76,345.13 610.80,345.06 611.85,345.00 612.89,344.93 613.94,344.87 614.98,344.81 616.03,344.75 617.07,344.69 618.12,344.63 619.16,344.57 620.21,344.52 621.25,344.47 622.29,344.42 623.34,344.37 624.38,344.32 625.43,344.27 626.47,344.23 627.52,344.18 628.56,344.14 629.61,344.10 630.65,344.06 631.70,344.02 632.74,343.98 633.78,343.94 634.83,343.91 635.87,343.87 636.92,343.84 637.96,343.80 639.01,343.77 640.05,343.74 641.10,343.71 642.14,343.68 643.19,343.65 644.23,343.62 645.27,343.59 646.32,343.56 647.36,343.53 648.41,343.51" fill="none" stroke="#c4c4c4" stroke-width="2.8" stroke-linejoin="round" stroke-linecap="butt"/>
<polyline points="439.50,508.40 440.54,508.39 441.59,508.35 442.63,508.30 443.68,508.22 444.72,508.12 445.77,507.99 446.81,507.85 447.86,507.68 448.90,507.50 449.95,507.29 450.99,507.06 452.03,506.81 453.08,506.55 454.12,506.26 455.17,505.95 456.21,505.62 457.26,505.27 458.30,504.90 459.35,504.50 460.39,504.09 461.44,503.64 462.48,503.17 463.52,502.68 464.57,502.15 465.61,501.59 466.66,500.99 467.70,500.36 468.75,499.69 469.79,498.98 470.84,498.22 471.88,497.41 472.93,496.55 473.97,495.63 475.01,494.66 476.06,493.63 477.10,492.53 478.15,491.36 479.19,490.12 480.24,488.82 481.28,487.43 482.33,485.98 483.37,484.44 484.42,482.83 485.46,481.14 486.50,479.37 487.55,477.53 488.59,475.61 489.64,473.61 490.68,471.54 491.73,469.40 492.77,467.20 493.82,464.93 494.86,462.59 495.91,460.21 496.95,457.77 497.99,455.29 499.04,452.76 500.08,450.20 501.13,447.60 502.17,444.98 503.22,442.34 504.26,439.68 505.31,437.01 506.35,434.34 507.40,431.69 508.44,429.07 509.48,426.48 510.53,423.93 511.57,421.41 512.62,418.94 513.66,416.51 514.71,414.14 515.75,411.81 516.80,409.54 517.84,407.32 518.89,405.16 519.93,403.05 520.97,401.00 522.02,399.01 523.06,397.07 524.11,395.19 525.15,393.37 526.20,391.61 527.24,389.90 528.29,388.25 529.33,386.65 530.37,385.10 531.42,383.61 532.46,382.17 533.51,380.78 534.55,379.44 535.60,378.14 536.64,376.90 537.69,375.69 538.73,374.53 539.78,373.42 540.82,372.34 541.86,371.31 542.91,370.31 543.95,369.35 545.00,368.42 546.04,367.53 547.09,366.68 548.13,365.85 549.18,365.06 550.22,364.29 551.27,363.56 552.31,362.85 553.35,362.17 554.40,361.51 555.44,360.88 556.49,360.27 557.53,359.68 558.58,359.12 559.62,358.58 560.67,358.05 561.71,357.55 562.76,357.07 563.80,356.60 564.84,356.15 565.89,355.71 566.93,355.30 567.98,354.89 569.02,354.50 570.07,354.13 571.11,353.77 572.16,353.42 573.20,353.09 574.25,352.76 575.29,352.45 576.33,352.15 577.38,351.86 578.42,351.58 579.47,351.30 580.51,351.04 581.56,350.79 582.60,350.54 583.65,350.31 584.69,350.08 585.74,349.86 586.78,349.65 587.82,349.44 588.87,349.24 589.91,349.05 590.96,348.86 592.00,348.68 593.05,348.51 594.09,348.34 595.14,348.18 596.18,348.02 597.23,347.87 598.27,347.72 599.31,347.58 600.36,347.44 601.40,347.30 602.45,347.17 603.49,347.05 604.54,346.92 605.58,346.80 606.63,346.69 607.67,346.58 608.72,346.47 609.76,346.36 610.80,346.26 611.85,346.16 612.89,346.07 613.94,345.98 614.98,345.88 616.03,345.80 617.07,345.71 618.12,345.63 619.16,345.55 620.21,345.47 621.25,345.40 622.29,345.32 623.34,345.25 624.38,345.18 625.43,345.11 626.47,345.05 627.52,344.98 628.56,344.92 629.61,344.86 630.65,344.80 631.70,344.74 632.74,344.69 633.78,344.63 634.83,344.58 635.87,344.53 636.92,344.48 637.96,344.43 639.01,344.38 640.05,344.34 641.10,344.29 642.14,344.25 643.19,344.21 644.23,344.16 645.27,344.12 646.32,344.08 647.36,344.05 648.41,344.01" fill="none" stroke="#000" stroke-width="2.85" stroke-linejoin="round" stroke-linecap="butt"/>
<line x1="439.5" y1="341.9" x2="439.5" y2="514.1999999999999" stroke="#1c1c1c" stroke-width="1.5" stroke-linecap="butt"/>
<line x1="437.3" y1="508.4" x2="655.5" y2="508.4" stroke="#1c1c1c" stroke-width="1.65" stroke-linecap="butt"/>
<text x="435.2" y="511.2" font-size="10.4" text-anchor="end" font-weight="normal" fill="#222" stroke="#222" stroke-width="0.28">0</text>
<line x1="436.5" y1="425.29999999999995" x2="439.5" y2="425.29999999999995" stroke="#1c1c1c" stroke-width="1.0" stroke-linecap="butt"/>
<text x="431.0" y="429.29999999999995" font-size="10.4" text-anchor="end" font-weight="normal" fill="#222" stroke="#222" stroke-width="0.28">0.5</text>
<line x1="436.5" y1="342.2" x2="439.5" y2="342.2" stroke="#1c1c1c" stroke-width="1.0" stroke-linecap="butt"/>
<text x="436.0" y="342.9" font-size="10.4" text-anchor="end" font-weight="normal" fill="#222" stroke="#222" stroke-width="0.28">1</text>
<text x="439.5" y="528.5" font-size="11" text-anchor="middle" font-weight="normal" fill="#222" stroke="#222" stroke-width="0.28">0</text>
<line x1="472.65999999999997" y1="508.4" x2="472.65999999999997" y2="514.1999999999999" stroke="#1c1c1c" stroke-width="1.2" stroke-linecap="butt"/>
<text x="472.65999999999997" y="528.5" font-size="11" text-anchor="middle" font-weight="normal" fill="#222" stroke="#222" stroke-width="0.28">2</text>
<line x1="505.82" y1="508.4" x2="505.82" y2="514.1999999999999" stroke="#1c1c1c" stroke-width="1.2" stroke-linecap="butt"/>
<text x="505.82" y="528.5" font-size="11" text-anchor="middle" font-weight="normal" fill="#222" stroke="#222" stroke-width="0.28">4</text>
<line x1="538.98" y1="508.4" x2="538.98" y2="514.1999999999999" stroke="#1c1c1c" stroke-width="1.2" stroke-linecap="butt"/>
<text x="538.98" y="528.5" font-size="11" text-anchor="middle" font-weight="normal" fill="#222" stroke="#222" stroke-width="0.28">6</text>
<line x1="572.14" y1="508.4" x2="572.14" y2="514.1999999999999" stroke="#1c1c1c" stroke-width="1.2" stroke-linecap="butt"/>
<text x="572.14" y="528.5" font-size="11" text-anchor="middle" font-weight="normal" fill="#222" stroke="#222" stroke-width="0.28">8</text>
<line x1="605.3" y1="508.4" x2="605.3" y2="514.1999999999999" stroke="#1c1c1c" stroke-width="1.2" stroke-linecap="butt"/>
<text x="605.3" y="528.5" font-size="11" text-anchor="middle" font-weight="normal" fill="#222" stroke="#222" stroke-width="0.28">10</text>
<line x1="638.46" y1="508.4" x2="638.46" y2="514.1999999999999" stroke="#1c1c1c" stroke-width="1.2" stroke-linecap="butt"/>
<text x="638.46" y="528.5" font-size="11" text-anchor="middle" font-weight="normal" fill="#222" stroke="#222" stroke-width="0.28">12</text>
<circle cx="501.3" cy="426.9" r="2.6" fill="#000"/>
<line x1="501.3" y1="426.9" x2="511.20000000000005" y2="426.9" stroke="#000" stroke-width="1.6" stroke-linecap="butt"/>
<path d="M507.20000000000005,423.0 L514.5,426.9 L507.20000000000005,430.79999999999995 L509.00000000000006,426.9 Z" fill="#000"/>
<text x="0" y="0" font-size="13.7" text-anchor="middle" font-weight="normal" fill="#111" transform="translate(408.4 431.7) rotate(-90)" stroke="#111" stroke-width="0.28">P(SIR)</text>
<text x="461.3" y="550.3" font-size="13.65" text-anchor="start" font-weight="normal" fill="#111" stroke="#111" stroke-width="0.28">Delay for the large reward (s)</text>
<polyline points="438.10,789.00 439.14,789.00 440.19,788.99 441.23,788.97 442.28,788.95 443.32,788.93 444.36,788.89 445.41,788.85 446.45,788.81 447.49,788.76 448.54,788.71 449.58,788.65 450.63,788.60 451.67,788.53 452.71,788.47 453.76,788.40 454.80,788.33 455.85,788.25 456.89,788.18 457.93,788.11 458.98,788.03 460.02,787.95 461.07,787.87 462.11,787.79 463.15,787.70 464.20,787.62 465.24,787.53 466.28,787.43 467.33,787.33 468.37,787.23 469.42,787.12 470.46,787.00 471.50,786.87 472.55,786.74 473.59,786.59 474.64,786.43 475.68,786.25 476.72,786.06 477.77,785.86 478.81,785.63 479.85,785.39 480.90,785.13 481.94,784.85 482.99,784.54 484.03,784.22 485.07,783.87 486.12,783.49 487.16,783.09 488.21,782.67 489.25,782.23 490.29,781.76 491.34,781.28 492.38,780.77 493.43,780.25 494.47,779.70 495.51,779.13 496.56,778.54 497.60,777.93 498.64,777.30 499.69,776.65 500.73,775.97 501.78,775.28 502.82,774.56 503.86,773.82 504.91,773.06 505.95,772.27 507.00,771.47 508.04,770.64 509.08,769.80 510.13,768.93 511.17,768.04 512.21,767.13 513.26,766.20 514.30,765.26 515.35,764.29 516.39,763.30 517.43,762.30 518.48,761.27 519.52,760.23 520.57,759.18 521.61,758.10 522.65,757.01 523.70,755.91 524.74,754.78 525.79,753.65 526.83,752.50 527.87,751.34 528.92,750.17 529.96,748.98 531.00,747.78 532.05,746.58 533.09,745.36 534.14,744.13 535.18,742.90 536.22,741.66 537.27,740.41 538.31,739.15 539.36,737.89 540.40,736.63 541.44,735.36 542.49,734.08 543.53,732.81 544.57,731.53 545.62,730.25 546.66,728.97 547.71,727.69 548.75,726.41 549.79,725.13 550.84,723.85 551.88,722.57 552.93,721.30 553.97,720.03 555.01,718.76 556.06,717.50 557.10,716.25 558.14,714.99 559.19,713.75 560.23,712.51 561.28,711.28 562.32,710.05 563.36,708.83 564.41,707.63 565.45,706.42 566.50,705.23 567.54,704.05 568.58,702.87 569.63,701.71 570.67,700.55 571.72,699.41 572.76,698.27 573.80,697.15 574.85,696.04 575.89,694.94 576.93,693.85 577.98,692.77 579.02,691.70 580.07,690.64 581.11,689.60 582.15,688.56 583.20,687.54 584.24,686.53 585.29,685.54 586.33,684.55 587.37,683.58 588.42,682.62 589.46,681.67 590.50,680.73 591.55,679.81 592.59,678.89 593.64,677.99 594.68,677.11 595.72,676.23 596.77,675.37 597.81,674.52 598.86,673.68 599.90,672.85 600.94,672.03 601.99,671.23 603.03,670.43 604.08,669.65 605.12,668.88 606.16,668.13 607.21,667.38 608.25,666.64 609.29,665.92 610.34,665.20 611.38,664.50 612.43,663.81 613.47,663.13 614.51,662.46 615.56,661.80 616.60,661.15 617.65,660.51 618.69,659.88 619.73,659.26 620.78,658.64 621.82,658.04 622.86,657.45 623.91,656.87 624.95,656.30 626.00,655.74 627.04,655.18 628.08,654.64 629.13,654.10 630.17,653.57 631.22,653.05 632.26,652.54 633.30,652.04 634.35,651.54 635.39,651.06 636.44,650.58 637.48,650.11 638.52,649.64 639.57,649.19 640.61,648.74 641.65,648.30 642.70,647.87 643.74,647.44 644.79,647.02 645.83,646.61 646.87,646.20" fill="none" stroke="#c4c4c4" stroke-width="2.8" stroke-linejoin="round" stroke-linecap="butt"/>
<polyline points="438.10,789.00 439.14,789.00 440.19,788.99 441.23,788.97 442.28,788.95 443.32,788.93 444.36,788.89 445.41,788.86 446.45,788.81 447.49,788.77 448.54,788.71 449.58,788.66 450.63,788.60 451.67,788.54 452.71,788.47 453.76,788.41 454.80,788.34 455.85,788.27 456.89,788.20 457.93,788.13 458.98,788.06 460.02,787.98 461.07,787.91 462.11,787.83 463.15,787.75 464.20,787.68 465.24,787.59 466.28,787.51 467.33,787.42 468.37,787.33 469.42,787.23 470.46,787.12 471.50,787.01 472.55,786.88 473.59,786.75 474.64,786.61 475.68,786.45 476.72,786.28 477.77,786.09 478.81,785.89 479.85,785.67 480.90,785.43 481.94,785.18 482.99,784.90 484.03,784.60 485.07,784.28 486.12,783.93 487.16,783.56 488.21,783.17 489.25,782.76 490.29,782.33 491.34,781.89 492.38,781.42 493.43,780.93 494.47,780.43 495.51,779.90 496.56,779.36 497.60,778.79 498.64,778.21 499.69,777.60 500.73,776.97 501.78,776.32 502.82,775.66 503.86,774.97 504.91,774.26 505.95,773.53 507.00,772.78 508.04,772.00 509.08,771.21 510.13,770.40 511.17,769.57 512.21,768.72 513.26,767.85 514.30,766.96 515.35,766.05 516.39,765.12 517.43,764.18 518.48,763.21 519.52,762.23 520.57,761.23 521.61,760.22 522.65,759.19 523.70,758.14 524.74,757.08 525.79,756.00 526.83,754.91 527.87,753.80 528.92,752.68 529.96,751.55 531.00,750.41 532.05,749.26 533.09,748.09 534.14,746.92 535.18,745.74 536.22,744.54 537.27,743.34 538.31,742.13 539.36,740.92 540.40,739.70 541.44,738.47 542.49,737.24 543.53,736.00 544.57,734.76 545.62,733.52 546.66,732.27 547.71,731.02 548.75,729.78 549.79,728.53 550.84,727.28 551.88,726.03 552.93,724.78 553.97,723.53 555.01,722.29 556.06,721.05 557.10,719.81 558.14,718.58 559.19,717.35 560.23,716.12 561.28,714.90 562.32,713.69 563.36,712.48 564.41,711.28 565.45,710.09 566.50,708.90 567.54,707.72 568.58,706.55 569.63,705.38 570.67,704.23 571.72,703.08 572.76,701.94 573.80,700.81 574.85,699.70 575.89,698.59 576.93,697.49 577.98,696.40 579.02,695.32 580.07,694.25 581.11,693.20 582.15,692.15 583.20,691.11 584.24,690.09 585.29,689.08 586.33,688.07 587.37,687.08 588.42,686.11 589.46,685.14 590.50,684.18 591.55,683.24 592.59,682.30 593.64,681.38 594.68,680.47 595.72,679.57 596.77,678.69 597.81,677.81 598.86,676.95 599.90,676.10 600.94,675.26 601.99,674.43 603.03,673.61 604.08,672.80 605.12,672.01 606.16,671.22 607.21,670.45 608.25,669.69 609.29,668.94 610.34,668.20 611.38,667.47 612.43,666.75 613.47,666.04 614.51,665.34 615.56,664.65 616.60,663.98 617.65,663.31 618.69,662.65 619.73,662.00 620.78,661.37 621.82,660.74 622.86,660.12 623.91,659.51 624.95,658.91 626.00,658.32 627.04,657.74 628.08,657.17 629.13,656.61 630.17,656.05 631.22,655.51 632.26,654.97 633.30,654.44 634.35,653.92 635.39,653.41 636.44,652.91 637.48,652.41 638.52,651.92 639.57,651.44 640.61,650.97 641.65,650.50 642.70,650.04 643.74,649.59 644.79,649.15 645.83,648.71 646.87,648.28" fill="none" stroke="#000" stroke-width="2.85" stroke-linejoin="round" stroke-linecap="butt"/>
<line x1="438.1" y1="617.7" x2="438.1" y2="794.8" stroke="#1c1c1c" stroke-width="1.5" stroke-linecap="butt"/>
<line x1="435.90000000000003" y1="789" x2="655.5" y2="789" stroke="#1c1c1c" stroke-width="1.65" stroke-linecap="butt"/>
<text x="435.70000000000005" y="791.8" font-size="10.4" text-anchor="end" font-weight="normal" fill="#222" stroke="#222" stroke-width="0.28">0</text>
<line x1="435.1" y1="703.5" x2="438.1" y2="703.5" stroke="#1c1c1c" stroke-width="1.0" stroke-linecap="butt"/>
<text x="432.8" y="707.5" font-size="10.4" text-anchor="end" font-weight="normal" fill="#222" stroke="#222" stroke-width="0.28">0.5</text>
<line x1="435.1" y1="618" x2="438.1" y2="618" stroke="#1c1c1c" stroke-width="1.0" stroke-linecap="butt"/>
<text x="435.1" y="618.7" font-size="10.4" text-anchor="end" font-weight="normal" fill="#222" stroke="#222" stroke-width="0.28">1</text>
<text x="438.1" y="810.2" font-size="11" text-anchor="middle" font-weight="normal" fill="#222" stroke="#222" stroke-width="0.28">0</text>
<line x1="471.16" y1="789" x2="471.16" y2="794.8" stroke="#1c1c1c" stroke-width="1.2" stroke-linecap="butt"/>
<text x="471.16" y="810.2" font-size="11" text-anchor="middle" font-weight="normal" fill="#222" stroke="#222" stroke-width="0.28">2</text>
<line x1="504.22" y1="789" x2="504.22" y2="794.8" stroke="#1c1c1c" stroke-width="1.2" stroke-linecap="butt"/>
<text x="504.22" y="810.2" font-size="11" text-anchor="middle" font-weight="normal" fill="#222" stroke="#222" stroke-width="0.28">4</text>
<line x1="537.28" y1="789" x2="537.28" y2="794.8" stroke="#1c1c1c" stroke-width="1.2" stroke-linecap="butt"/>
<text x="537.28" y="810.2" font-size="11" text-anchor="middle" font-weight="normal" fill="#222" stroke="#222" stroke-width="0.28">6</text>
<line x1="570.34" y1="789" x2="570.34" y2="794.8" stroke="#1c1c1c" stroke-width="1.2" stroke-linecap="butt"/>
<text x="570.34" y="810.2" font-size="11" text-anchor="middle" font-weight="normal" fill="#222" stroke="#222" stroke-width="0.28">8</text>
<line x1="603.4000000000001" y1="789" x2="603.4000000000001" y2="794.8" stroke="#1c1c1c" stroke-width="1.2" stroke-linecap="butt"/>
<text x="603.4000000000001" y="810.2" font-size="11" text-anchor="middle" font-weight="normal" fill="#222" stroke="#222" stroke-width="0.28">10</text>
<line x1="636.46" y1="789" x2="636.46" y2="794.8" stroke="#1c1c1c" stroke-width="1.2" stroke-linecap="butt"/>
<text x="636.46" y="810.2" font-size="11" text-anchor="middle" font-weight="normal" fill="#222" stroke="#222" stroke-width="0.28">12</text>
<text x="0" y="0" font-size="13.7" text-anchor="middle" font-weight="normal" fill="#111" transform="translate(408.8 704) rotate(-90)" stroke="#111" stroke-width="0.28">P(SIR)</text>
<text x="465.6" y="835" font-size="13.65" text-anchor="start" font-weight="normal" fill="#111" stroke="#111" stroke-width="0.28">Delay for the large reward (s)</text>
<line x1="593.2" y1="146" x2="593.2" y2="221.8" stroke="#969696" stroke-width="0.8" stroke-linecap="butt"/>
<line x1="590.2" y1="218.8" x2="655.5" y2="218.8" stroke="#969696" stroke-width="0.8" stroke-linecap="butt"/>
<line x1="590.2" y1="146" x2="593.2" y2="146" stroke="#969696" stroke-width="0.8" stroke-linecap="butt"/>
<line x1="624.7" y1="218.8" x2="624.7" y2="221.8" stroke="#969696" stroke-width="0.8" stroke-linecap="butt"/>
<line x1="655.5" y1="218.8" x2="655.5" y2="221.8" stroke="#969696" stroke-width="0.8" stroke-linecap="butt"/>
<text x="0" y="0" font-size="10.6" text-anchor="end" font-weight="normal" fill="#3a3a3a" transform="translate(588.4 149.8) scale(1.15 1)" stroke="#3a3a3a" stroke-width="0.28">0.25</text>
<text x="0" y="0" font-size="10.6" text-anchor="end" font-weight="normal" fill="#3a3a3a" transform="translate(588.4 222.60000000000002) scale(1.15 1)" stroke="#3a3a3a" stroke-width="0.28">0.15</text>
<text x="0" y="0" font-size="10.6" text-anchor="middle" font-weight="normal" fill="#3a3a3a" transform="translate(608.6 235.3) scale(0.98 1)" stroke="#3a3a3a" stroke-width="0.28">CT</text>
<text x="0" y="0" font-size="10.6" text-anchor="middle" font-weight="normal" fill="#3a3a3a" transform="translate(639.2 235.3) scale(1.12 1)" stroke="#3a3a3a" stroke-width="0.28">MPH</text>
<line x1="608.85" y1="163.5" x2="608.85" y2="176" stroke="#666" stroke-width="0.9" stroke-linecap="butt"/>
<line x1="605.65" y1="163.5" x2="612.0500000000001" y2="163.5" stroke="#666" stroke-width="0.9" stroke-linecap="butt"/>
<line x1="605.65" y1="176" x2="612.0500000000001" y2="176" stroke="#666" stroke-width="0.9" stroke-linecap="butt"/>
<line x1="601.2" y1="169.8" x2="616.5" y2="169.8" stroke="#a9a9a9" stroke-width="3.0" stroke-linecap="butt"/>
<line x1="638.8499999999999" y1="192.2" x2="638.8499999999999" y2="209.8" stroke="#222" stroke-width="0.9" stroke-linecap="butt"/>
<line x1="635.6499999999999" y1="192.2" x2="642.05" y2="192.2" stroke="#222" stroke-width="0.9" stroke-linecap="butt"/>
<line x1="635.6499999999999" y1="209.8" x2="642.05" y2="209.8" stroke="#222" stroke-width="0.9" stroke-linecap="butt"/>
<line x1="631.4" y1="201.6" x2="646.3" y2="201.6" stroke="#000" stroke-width="3.4" stroke-linecap="butt"/>
<text x="638.4" y="181.3" font-size="11.8" text-anchor="middle" font-weight="normal" fill="#222" stroke="#222" stroke-width="0.28">***</text>
<text x="0" y="0" font-size="13.6" text-anchor="middle" font-weight="normal" fill="#111" transform="translate(550.6 194) rotate(-90)" stroke="#111" stroke-width="0.28">k values</text>
<text x="0" y="0" font-size="13.6" text-anchor="middle" fill="#111" stroke="#111" stroke-width="0.28" transform="translate(567.2 194) rotate(-90)">(s<tspan font-size="8" dy="-5">-1</tspan><tspan dy="5">)</tspan></text>
<line x1="582.3" y1="407" x2="582.3" y2="485.8" stroke="#969696" stroke-width="0.8" stroke-linecap="butt"/>
<line x1="579.3" y1="482.8" x2="651.4" y2="482.8" stroke="#969696" stroke-width="0.8" stroke-linecap="butt"/>
<line x1="579.3" y1="407" x2="582.3" y2="407" stroke="#969696" stroke-width="0.8" stroke-linecap="butt"/>
<line x1="617.5" y1="482.8" x2="617.5" y2="485.8" stroke="#969696" stroke-width="0.8" stroke-linecap="butt"/>
<line x1="651.4" y1="482.8" x2="651.4" y2="485.8" stroke="#969696" stroke-width="0.8" stroke-linecap="butt"/>
<text x="0" y="0" font-size="10.6" text-anchor="end" font-weight="normal" fill="#3a3a3a" transform="translate(571.6 410.8) scale(1.23 1)" stroke="#3a3a3a" stroke-width="0.28">0.20</text>
<text x="0" y="0" font-size="10.6" text-anchor="end" font-weight="normal" fill="#3a3a3a" transform="translate(571.6 486.6) scale(1.23 1)" stroke="#3a3a3a" stroke-width="0.28">0.15</text>
<text x="0" y="0" font-size="10.6" text-anchor="middle" font-weight="normal" fill="#3a3a3a" transform="translate(599.9 503.8) scale(0.98 1)" stroke="#3a3a3a" stroke-width="0.28">CT</text>
<text x="0" y="0" font-size="10.6" text-anchor="middle" font-weight="normal" fill="#3a3a3a" transform="translate(634.3 503.8) scale(1.12 1)" stroke="#3a3a3a" stroke-width="0.28">MPH</text>
<line x1="599.65" y1="440.4" x2="599.65" y2="468" stroke="#666" stroke-width="0.9" stroke-linecap="butt"/>
<line x1="596.4499999999999" y1="440.4" x2="602.85" y2="440.4" stroke="#666" stroke-width="0.9" stroke-linecap="butt"/>
<line x1="596.4499999999999" y1="468" x2="602.85" y2="468" stroke="#666" stroke-width="0.9" stroke-linecap="butt"/>
<line x1="592.3" y1="454" x2="607" y2="454" stroke="#a9a9a9" stroke-width="3.3" stroke-linecap="butt"/>
<line x1="634.45" y1="469.1" x2="634.45" y2="477.5" stroke="#222" stroke-width="0.9" stroke-linecap="butt"/>
<line x1="631.25" y1="469.1" x2="637.6500000000001" y2="469.1" stroke="#222" stroke-width="0.9" stroke-linecap="butt"/>
<line x1="631.25" y1="477.5" x2="637.6500000000001" y2="477.5" stroke="#222" stroke-width="0.9" stroke-linecap="butt"/>
<line x1="627.3" y1="473.5" x2="641.6" y2="473.5" stroke="#000" stroke-width="3.8" stroke-linecap="butt"/>
<text x="635.3" y="453" font-size="11.8" text-anchor="middle" font-weight="normal" fill="#222" stroke="#222" stroke-width="0.28">***</text>
<text x="0" y="0" font-size="13.6" text-anchor="middle" font-weight="normal" fill="#111" transform="translate(534.0 450) rotate(-90)" stroke="#111" stroke-width="0.28">k values</text>
<text x="0" y="0" font-size="13.6" text-anchor="middle" fill="#111" stroke="#111" stroke-width="0.28" transform="translate(550.6 450) rotate(-90)">(s<tspan font-size="8" dy="-5">-1</tspan><tspan dy="5">)</tspan></text>
<line x1="588.1" y1="726.5" x2="588.1" y2="771.4" stroke="#969696" stroke-width="0.8" stroke-linecap="butt"/>
<line x1="585.1" y1="768.4" x2="649.6" y2="768.4" stroke="#969696" stroke-width="0.8" stroke-linecap="butt"/>
<line x1="585.1" y1="726.5" x2="588.1" y2="726.5" stroke="#969696" stroke-width="0.8" stroke-linecap="butt"/>
<line x1="619.2" y1="768.4" x2="619.2" y2="771.4" stroke="#969696" stroke-width="0.8" stroke-linecap="butt"/>
<line x1="649.6" y1="768.4" x2="649.6" y2="771.4" stroke="#969696" stroke-width="0.8" stroke-linecap="butt"/>
<text x="578.8" y="731.0" font-size="10.5" text-anchor="end" font-weight="normal" fill="#222" stroke="#222" stroke-width="0.28">0.15</text>
<text x="578.8" y="772.9" font-size="10.5" text-anchor="end" font-weight="normal" fill="#222" stroke="#222" stroke-width="0.28">0.05</text>
<text x="603.3" y="785.2" font-size="10.6" text-anchor="middle" font-weight="normal" fill="#222" stroke="#222" stroke-width="0.28">CT</text>
<text x="634.8" y="785.2" font-size="10.6" text-anchor="middle" font-weight="normal" fill="#222" stroke="#222" stroke-width="0.28">MPH</text>
<line x1="603.3499999999999" y1="743.5" x2="603.3499999999999" y2="747.3" stroke="#666" stroke-width="0.9" stroke-linecap="butt"/>
<line x1="600.1499999999999" y1="743.5" x2="606.55" y2="743.5" stroke="#666" stroke-width="0.9" stroke-linecap="butt"/>
<line x1="600.1499999999999" y1="747.3" x2="606.55" y2="747.3" stroke="#666" stroke-width="0.9" stroke-linecap="butt"/>
<line x1="595.9" y1="745.3" x2="610.8" y2="745.3" stroke="#a9a9a9" stroke-width="3.7" stroke-linecap="butt"/>
<line x1="634.45" y1="741.6" x2="634.45" y2="751.4" stroke="#222" stroke-width="0.9" stroke-linecap="butt"/>
<line x1="631.25" y1="741.6" x2="637.6500000000001" y2="741.6" stroke="#222" stroke-width="0.9" stroke-linecap="butt"/>
<line x1="631.25" y1="751.4" x2="637.6500000000001" y2="751.4" stroke="#222" stroke-width="0.9" stroke-linecap="butt"/>
<line x1="626.9" y1="746.2" x2="642" y2="746.2" stroke="#000" stroke-width="3.7" stroke-linecap="butt"/>
<rect x="169.9" y="863.1" width="11.7" height="10.0" fill="#a6a6a6" stroke="#111" stroke-width="1.3"/>
<text x="190.8" y="874.3" font-size="12.6" text-anchor="start" font-weight="bold" fill="#000" letter-spacing="1.2" stroke="#000" stroke-width="0.18">CT</text>
<rect x="225.0" y="862.6" width="12.2" height="11.0" fill="#000"/>
<text x="247.0" y="872.2" font-size="13.55" text-anchor="start" font-weight="bold" fill="#000" stroke="#000" stroke-width="0.18">MPH low dose</text>
<rect x="354.6" y="864.6" width="11.8" height="10.3" fill="url(#dots)" stroke="#000" stroke-width="1"/>
<text x="373.6" y="874.0" font-size="13.65" text-anchor="start" font-weight="bold" fill="#000" stroke="#000" stroke-width="0.18">MPH high dose</text>
</svg>
</body></html>
